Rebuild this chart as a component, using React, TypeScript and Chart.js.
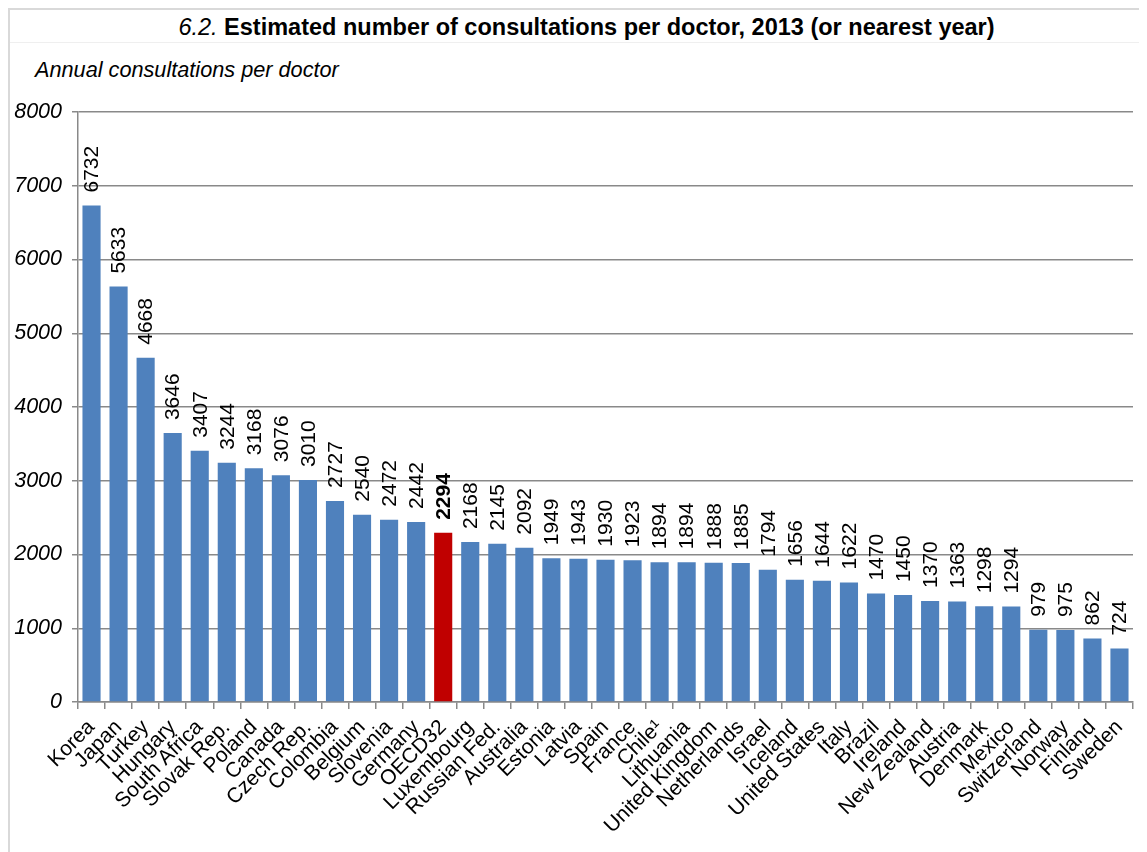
import React, { useEffect, useRef } from "react";
import { Chart, registerables } from "chart.js";

Chart.register(...registerables);

const categories: string[] = [
  "Korea", "Japan", "Turkey", "Hungary", "South Africa", "Slovak Rep.", "Poland", "Canada",
  "Czech Rep.", "Colombia", "Belgium", "Slovenia", "Germany", "OECD32", "Luxembourg",
  "Russian Fed.", "Australia", "Estonia", "Latvia", "Spain", "France", "Chile\u00b9",
  "Lithuania", "United Kingdom", "Netherlands", "Israel", "Iceland", "United States", "Italy",
  "Brazil", "Ireland", "New Zealand", "Austria", "Denmark", "Mexico", "Switzerland",
  "Norway", "Finland", "Sweden",
];

const consultations: number[] = [
  6732, 5633, 4668, 3646, 3407, 3244, 3168, 3076,
  3010, 2727, 2540, 2472, 2442, 2294, 2168,
  2145, 2092, 1949, 1943, 1930, 1923, 1894,
  1894, 1888, 1885, 1794, 1656, 1644, 1622,
  1470, 1450, 1370, 1363, 1298, 1294, 979,
  975, 862, 724,
];

const highlightCategory = "OECD32";
const yMin = 0;
const yMax = 8000;
const yStep = 1000;

const FONT = '"Liberation Sans", Arial, sans-serif';
const W = 1139;
const H = 844;

const valueLabels = {
  id: "valueLabels",
  afterDatasetsDraw(chart: any) {
    const ctx = chart.ctx as CanvasRenderingContext2D;
    const meta = chart.getDatasetMeta(0);
    meta.data.forEach((bar: any, i: number) => {
      const bold = categories[i] === highlightCategory;
      ctx.save();
      ctx.translate(bar.x + 1, bar.y - 13);
      ctx.rotate(-Math.PI / 2);
      ctx.font = `${bold ? "bold " : ""}21px ${FONT}`;
      ctx.textAlign = "left";
      ctx.textBaseline = "middle";
      ctx.fillStyle = "#000";
      ctx.fillText(String(consultations[i]), 0, 0);
      ctx.restore();
    });
  },
};

export default function App() {
  const canvasRef = useRef<HTMLCanvasElement | null>(null);

  useEffect(() => {
    document.body.style.overflow = "hidden";
    const canvas = canvasRef.current;
    if (!canvas) return;
    const chart = new Chart(canvas, {
      type: "bar",
      data: {
        labels: categories,
        datasets: [
          {
            data: consultations,
            backgroundColor: categories.map((c) => (c === highlightCategory ? "#C00000" : "#4F81BD")),
            borderWidth: 0,
            barPercentage: 0.67,
            categoryPercentage: 1,
          },
        ],
      },
      options: {
        responsive: false,
        animation: false,
        devicePixelRatio: 1,
        layout: { padding: { top: 104, right: 14, left: 0, bottom: 0 } },
        plugins: {
          legend: { display: false },
          title: { display: false },
          tooltip: { enabled: false },
        },
        scales: {
          x: {
            afterFit: (scale: any) => {
              scale.height = 150;
            },
            grid: {
              offset: true,
              drawOnChartArea: false,
              drawTicks: true,
              tickLength: 7,
              color: "#898989",
              lineWidth: 1.5,
            },
            border: { color: "#898989", width: 1.5 },
            ticks: {
              autoSkip: false,
              maxRotation: 45,
              minRotation: 45,
              color: "#000",
              padding: 6,
              font: { family: FONT, size: 21 },
            },
          },
          y: {
            min: yMin,
            max: yMax,
            afterFit: (scale: any) => {
              scale.width = 70;
            },
            grid: {
              color: "#898989",
              lineWidth: 1.5,
              drawTicks: true,
              tickLength: 6,
            },
            border: { color: "#898989", width: 1.5 },
            ticks: {
              stepSize: yStep,
              color: "#000",
              padding: 10,
              font: { family: FONT, size: 21.5, style: "italic" },
              callback: (v: any) => String(v),
            },
          },
        },
      },
      plugins: [valueLabels],
    });
    return () => chart.destroy();
  }, []);

  return (
    <div style={{ position: "relative", width: W, height: H, fontFamily: FONT, color: "#000" }}>
      <div style={{ position: "absolute", left: 0, top: 0, width: 2, height: H, background: "#d9d9d9" }} />
      <div style={{ position: "absolute", left: 0, top: 0, width: W, height: 2, background: "#d9d9d9" }} />
      <div style={{ position: "absolute", left: 2, top: 34, width: W - 2, height: 1, background: "#efefef" }} />
      <div
        style={{
          position: "absolute",
          left: 18,
          top: 5,
          width: W - 18,
          textAlign: "center",
          fontSize: 23.5,
          lineHeight: "28px",
          whiteSpace: "nowrap",
        }}
      >
        <span style={{ fontStyle: "italic" }}>6.2.</span>{" "}
        <span style={{ fontWeight: "bold" }}>Estimated number of consultations per doctor, 2013 (or nearest year)</span>
      </div>
      <div
        style={{
          position: "absolute",
          left: 27,
          top: 49,
          fontSize: 21.7,
          lineHeight: "26px",
          fontStyle: "italic",
          whiteSpace: "nowrap",
        }}
      >
        Annual consultations per doctor
      </div>
      <canvas
        ref={canvasRef}
        width={W}
        height={H}
        style={{ position: "absolute", left: 0, top: 0, width: W, height: H }}
      />
    </div>
  );
}
